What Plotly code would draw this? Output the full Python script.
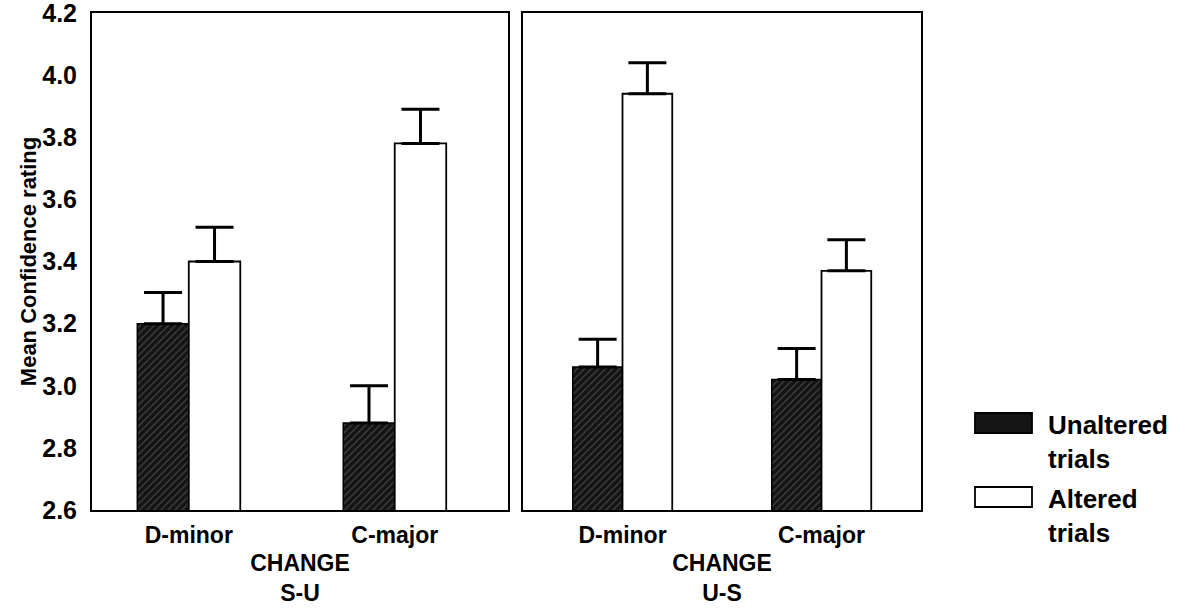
import plotly.graph_objects as go

categories = ["D-minor", "C-major"]
su_unaltered = [3.20, 2.88]
su_unaltered_err = [3.30, 3.00]
su_altered = [3.40, 3.78]
su_altered_err = [3.51, 3.89]
us_unaltered = [3.06, 3.02]
us_unaltered_err = [3.15, 3.12]
us_altered = [3.94, 3.37]
us_altered_err = [4.04, 3.47]
y_ticks = [2.6, 2.8, 3.0, 3.2, 3.4, 3.6, 3.8, 4.0, 4.2]

FONT = "Liberation Sans, Arial, sans-serif"
W, H = 1186, 611

def px_x(p):
    return p / W

def px_y(p):
    return 1 - p / H

def b(s):
    return "<b>" + s + "</b>"

dark_marker = dict(color="#141414", line=dict(color="black", width=1.5),
                   pattern=dict(shape="/", fgcolor="#8a8a8a", bgcolor="#141414", size=5, solidity=0.2))
white_marker = dict(color="white", line=dict(color="black", width=1.8))

def err(tops, vals):
    return dict(type="data", symmetric=False, array=[t - v for t, v in zip(tops, vals)],
                arrayminus=[0] * len(vals), color="black", thickness=3, width=19)

fig = go.Figure()
fig.add_trace(go.Bar(x=categories, y=su_unaltered, marker=dark_marker, error_y=err(su_unaltered_err, su_unaltered),
                     xaxis="x", yaxis="y", showlegend=False, name="Unaltered trials"))
fig.add_trace(go.Bar(x=categories, y=su_altered, marker=white_marker, error_y=err(su_altered_err, su_altered),
                     xaxis="x", yaxis="y", showlegend=False, name="Altered trials"))
fig.add_trace(go.Bar(x=categories, y=us_unaltered, marker=dark_marker, error_y=err(us_unaltered_err, us_unaltered),
                     xaxis="x2", yaxis="y2", showlegend=False, name="Unaltered trials"))
fig.add_trace(go.Bar(x=categories, y=us_altered, marker=white_marker, error_y=err(us_altered_err, us_altered),
                     xaxis="x2", yaxis="y2", showlegend=False, name="Altered trials"))

ydom = [px_y(510), px_y(13)]
axis_common = dict(showline=True, linecolor="black", linewidth=2, mirror=True, ticks="",
                   showgrid=False, zeroline=False)

tick_text_x = [b(c) for c in categories]

fig.update_layout(
    width=W, height=H,
    margin=dict(l=0, r=0, t=0, b=0),
    paper_bgcolor="white", plot_bgcolor="white",
    barmode="group", bargap=0.5, bargroupgap=0,
    font=dict(family=FONT, color="black", size=23),
    xaxis=dict(domain=[px_x(92), px_x(508)], anchor="y", type="category",
               range=[-0.47, 1.55], tickfont=dict(size=23),
               tickvals=categories, ticktext=tick_text_x, ticklabelstandoff=3,
               title=dict(text=b("CHANGE<br>S-U"), font=dict(size=23), standoff=8),
               automargin=False, **axis_common),
    yaxis=dict(domain=ydom, anchor="x", range=[2.6, 4.2], tickvals=y_ticks,
               ticktext=[b(f"{v:.1f}") for v in y_ticks], tickfont=dict(size=25),
               ticklabelstandoff=8, ticklabeloverflow="allow",
               title=dict(text=b("Mean Confidence rating"), font=dict(size=22), standoff=0),
               automargin=False, **axis_common),
    xaxis2=dict(domain=[px_x(523), px_x(921)], anchor="y2", type="category",
                range=[-0.5, 1.5], tickfont=dict(size=23),
                tickvals=categories, ticktext=tick_text_x, ticklabelstandoff=3,
                title=dict(text=b("CHANGE<br>U-S"), font=dict(size=23), standoff=8),
                automargin=False, **axis_common),
    yaxis2=dict(domain=ydom, anchor="x2", range=[2.6, 4.2], showticklabels=False,
                automargin=False, **axis_common),
)

# custom legend
legend_items = [("Unaltered<br>trials", "#141414", 413), ("Altered<br>trials", "white", 487)]
for label, fill, ytop in legend_items:
    fig.add_shape(type="rect", xref="paper", yref="paper",
                  x0=px_x(975), x1=px_x(1032), y0=px_y(ytop + 20), y1=px_y(ytop),
                  fillcolor=fill, line=dict(color="black", width=1.8))
    fig.add_annotation(x=px_x(1046), y=px_y(ytop - 5), xref="paper", yref="paper",
                       text=b(label), showarrow=False, xanchor="left", yanchor="top",
                       align="left", font=dict(size=26, family=FONT))

fig.write_html("out.html")
